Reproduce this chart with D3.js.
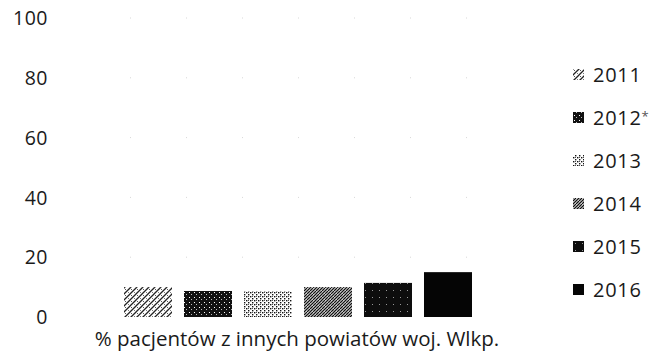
<!DOCTYPE html>
<html>
<head>
<meta charset="utf-8">
<script src="https://cdn.jsdelivr.net/npm/d3@7"></script>
<style>
  html, body { margin: 0; padding: 0; background: #fff; }
  svg text { font-family: "Open Sans", sans-serif; fill: #1a1a1a; }
</style>
</head>
<body>
<svg id="chart" width="657" height="358"></svg>
<script>
// Share of patients from other counties of the Wielkopolska voivodeship, by year
const category = "% pacjentów z innych powiatów woj. Wlkp.";
const years = ["2011", "2012*", "2013", "2014", "2015", "2016"];
const values = [10, 8.7, 8.7, 10, 11.4, 15];
const yTicks = [0, 20, 40, 60, 80, 100];

const svg = d3.select("#chart");
const defs = svg.append("defs");

// Monochrome textures, one per year
function pattern(id, size, bg, draw) {
  const p = defs.append("pattern")
    .attr("id", id).attr("patternUnits", "userSpaceOnUse")
    .attr("width", size).attr("height", size);
  p.append("rect").attr("width", size).attr("height", size).attr("fill", bg);
  draw(p);
}
pattern("p2011", 6, "#fff", p => {
  p.append("path").attr("d", "M0,6 L6,0 M-1,1 L1,-1 M5,7 L7,5").attr("stroke", "#222").attr("stroke-width", 1.3);
  p.append("rect").attr("x", 1).attr("y", 1).attr("width", 1).attr("height", 1).attr("fill", "#555");
  p.append("rect").attr("x", 4).attr("y", 4).attr("width", 1).attr("height", 1).attr("fill", "#777");
});
pattern("p2012", 5, "#111", p => {
  p.append("rect").attr("x", 1).attr("y", 2).attr("width", 1).attr("height", 1).attr("fill", "#fff");
  p.append("rect").attr("x", 3).attr("y", 4).attr("width", 1).attr("height", 1).attr("fill", "#bbb");
});
pattern("p2013", 4, "#fff", p => {
  p.append("rect").attr("x", 0).attr("y", 0).attr("width", 1.4).attr("height", 1.4).attr("fill", "#111");
  p.append("rect").attr("x", 2).attr("y", 2).attr("width", 1.4).attr("height", 1.4).attr("fill", "#111");
  p.append("rect").attr("x", 2).attr("y", 0).attr("width", 1).attr("height", 1).attr("fill", "#555");
});
pattern("p2014", 6, "#fff", p => {
  p.append("path").attr("d", "M0,6 L6,0 M-1,1 L1,-1 M5,7 L7,5 M0,3 L3,0 M3,6 L6,3").attr("stroke", "#111").attr("stroke-width", 1.3);
});
pattern("p2015", 7, "#0d0d0d", p => {
  p.append("rect").attr("x", 2).attr("y", 3).attr("width", 1).attr("height", 1).attr("fill", "#999");
});
pattern("p2016", 4, "#050505", () => {});
const fills = ["url(#p2011)", "url(#p2012)", "url(#p2013)", "url(#p2014)", "url(#p2015)", "url(#p2016)"];

// Scales
const y = d3.scaleLinear().domain([0, 100]).range([317, 18]);
const x0 = d3.scaleBand().domain([category]).range([118, 478]).padding(0);
const x1 = d3.scaleBand().domain(years).range([0, x0.bandwidth()])
  .paddingInner(0.2).paddingOuter(0.1);

// Barely visible dotted gridlines
svg.append("g")
  .selectAll("line").data(yTicks.filter(d => d > 0)).join("line")
  .attr("x1", 130).attr("x2", 480)
  .attr("y1", d => y(d)).attr("y2", d => y(d))
  .attr("stroke", "#d8d8d8").attr("stroke-width", 1)
  .attr("stroke-dasharray", "1 55");

// Y axis labels
const yAxis = d3.axisLeft(y).tickValues(yTicks).tickSize(0).tickPadding(0);
const gy = svg.append("g").attr("transform", "translate(48,0)").call(yAxis);
gy.select(".domain").remove();
gy.selectAll("text")
  .style("font-family", "'Open Sans', sans-serif")
  .style("font-size", "19.5px").attr("fill", "#1a1a1a").attr("dy", "0.34em")
  .attr("letter-spacing", "0.5px");

// Bars
const g = svg.append("g").attr("transform", `translate(${x0(category)},0)`);
g.selectAll("rect").data(values).join("rect")
  .attr("x", (d, i) => x1(years[i]))
  .attr("width", x1.bandwidth())
  .attr("y", d => y(d))
  .attr("height", d => y(0) - y(d))
  .attr("fill", (d, i) => fills[i]);

// Category axis label
const xAxis = d3.axisBottom(x0).tickSize(0).tickPadding(0);
const gx = svg.append("g").attr("transform", "translate(-1,331)").call(xAxis);
gx.select(".domain").remove();
gx.selectAll("text")
  .style("font-family", "'Open Sans', sans-serif")
  .style("font-size", "20.5px").attr("fill", "#1a1a1a");

// Legend; a trailing asterisk is set small and raised
const legend = svg.append("g").selectAll("g").data(years).join("g")
  .attr("transform", (d, i) => `translate(573,${75 + i * 43})`);
legend.append("rect")
  .attr("x", 0).attr("y", -6).attr("width", 11).attr("height", 11)
  .attr("fill", (d, i) => fills[i]);
const lt = legend.append("text")
  .attr("x", 20).attr("dy", "0.34em")
  .style("font-size", "20px").attr("letter-spacing", "0.7px");
lt.append("tspan").text(d => d.replace("*", ""));
lt.filter(d => d.endsWith("*")).append("tspan")
  .attr("dy", "-0.3em").style("font-size", "13px").attr("fill", "#555")
  .text("*");
</script>
</body>
</html>
